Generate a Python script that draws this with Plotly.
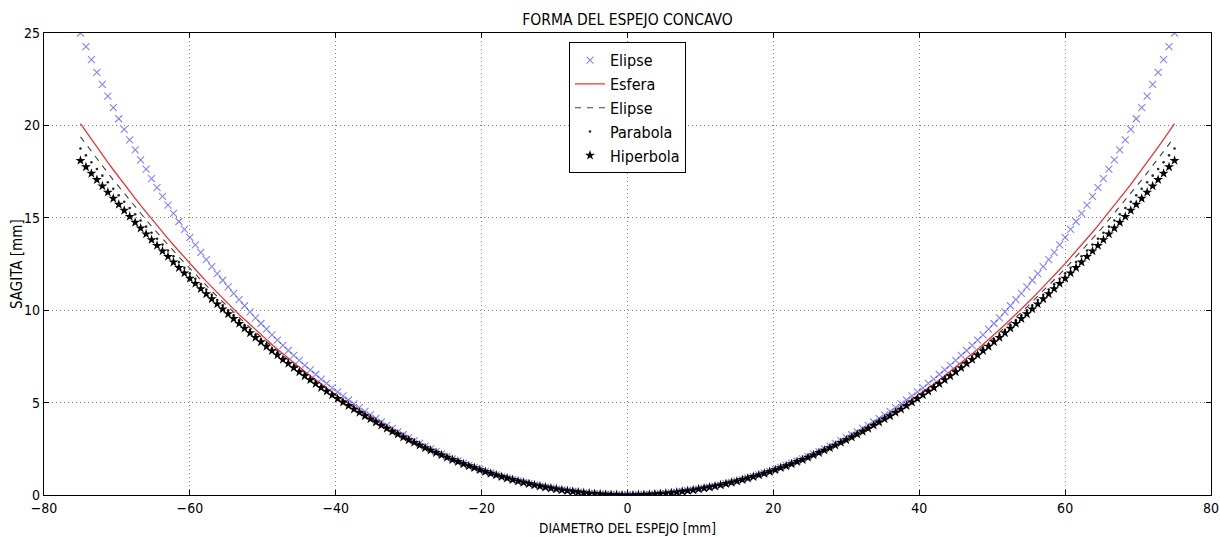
import plotly.graph_objects as go

# Right half of the mirror profile (curves are symmetric about x = 0)
x_half = [0, 0.75, 1.5, 2.25, 3, 3.75, 4.5, 5.25, 6, 6.75, 7.5, 8.25, 9, 9.75, 10.5, 11.25,
          12, 12.75, 13.5, 14.25, 15, 15.75, 16.5, 17.25, 18, 18.75, 19.5, 20.25, 21, 21.75,
          22.5, 23.25, 24, 24.75, 25.5, 26.25, 27, 27.75, 28.5, 29.25, 30, 30.75, 31.5, 32.25,
          33, 33.75, 34.5, 35.25, 36, 36.75, 37.5, 38.25, 39, 39.75, 40.5, 41.25, 42, 42.75,
          43.5, 44.25, 45, 45.75, 46.5, 47.25, 48, 48.75, 49.5, 50.25, 51, 51.75, 52.5, 53.25,
          54, 54.75, 55.5, 56.25, 57, 57.75, 58.5, 59.25, 60, 60.75, 61.5, 62.25, 63, 63.75,
          64.5, 65.25, 66, 66.75, 67.5, 68.25, 69, 69.75, 70.5, 71.25, 72, 72.75, 73.5, 74.25, 75]

elipse_x_half = [0.00, 0.00, 0.01, 0.02, 0.03, 0.05, 0.07, 0.09, 0.12, 0.15,
                 0.19, 0.23, 0.27, 0.32, 0.37, 0.42, 0.48, 0.54, 0.61, 0.68, 0.76,
                 0.83, 0.92, 1.00, 1.09, 1.19, 1.28, 1.39, 1.49, 1.60, 1.72,
                 1.84, 1.96, 2.09, 2.22, 2.35, 2.49, 2.64, 2.79, 2.94, 3.10,
                 3.26, 3.42, 3.60, 3.77, 3.95, 4.14, 4.33, 4.52, 4.73, 4.93,
                 5.14, 5.36, 5.58, 5.80, 6.04, 6.27, 6.52, 6.77, 7.02, 7.28,
                 7.55, 7.82, 8.10, 8.38, 8.67, 8.97, 9.28, 9.59, 9.91, 10.24,
                 10.57, 10.91, 11.26, 11.62, 11.98, 12.36, 12.74, 13.13, 13.53, 13.94,
                 14.37, 14.80, 15.24, 15.69, 16.16, 16.63, 17.12, 17.63, 18.14, 18.68,
                 19.22, 19.78, 20.36, 20.96, 21.58, 22.22, 22.87, 23.56, 24.26, 25.00]

esfera_half = [0.00, 0.00, 0.01, 0.02, 0.03, 0.05, 0.07, 0.09, 0.12, 0.15,
               0.19, 0.23, 0.27, 0.32, 0.37, 0.42, 0.48, 0.54, 0.61, 0.68, 0.75,
               0.83, 0.91, 1.00, 1.08, 1.18, 1.27, 1.37, 1.48, 1.59, 1.70,
               1.81, 1.93, 2.06, 2.18, 2.31, 2.45, 2.59, 2.73, 2.88, 3.03,
               3.19, 3.34, 3.51, 3.68, 3.85, 4.02, 4.20, 4.38, 4.57, 4.76,
               4.96, 5.16, 5.36, 5.57, 5.78, 6.00, 6.22, 6.45, 6.68, 6.91,
               7.15, 7.39, 7.64, 7.89, 8.14, 8.40, 8.67, 8.94, 9.21, 9.49,
               9.77, 10.06, 10.35, 10.65, 10.95, 11.25, 11.56, 11.88, 12.20, 12.52,
               12.85, 13.19, 13.53, 13.87, 14.22, 14.58, 14.94, 15.30, 15.67, 16.05,
               16.43, 16.81, 17.20, 17.60, 18.00, 18.41, 18.82, 19.24, 19.67, 20.10]

elipse_d_half = [0.00, 0.00, 0.01, 0.02, 0.03, 0.05, 0.07, 0.09, 0.12, 0.15,
                 0.19, 0.23, 0.27, 0.32, 0.37, 0.42, 0.48, 0.54, 0.61, 0.68, 0.75,
                 0.83, 0.91, 0.99, 1.08, 1.17, 1.27, 1.37, 1.47, 1.58, 1.69,
                 1.81, 1.93, 2.05, 2.18, 2.31, 2.44, 2.58, 2.72, 2.87, 3.02,
                 3.17, 3.33, 3.49, 3.65, 3.82, 3.99, 4.17, 4.35, 4.54, 4.72,
                 4.92, 5.11, 5.31, 5.52, 5.73, 5.94, 6.16, 6.38, 6.60, 6.83,
                 7.06, 7.30, 7.54, 7.78, 8.03, 8.28, 8.54, 8.80, 9.06, 9.33,
                 9.61, 9.88, 10.16, 10.45, 10.74, 11.03, 11.33, 11.63, 11.94, 12.25,
                 12.57, 12.88, 13.21, 13.54, 13.87, 14.20, 14.54, 14.89, 15.24, 15.59,
                 15.95, 16.31, 16.68, 17.05, 17.43, 17.81, 18.19, 18.58, 18.98, 19.38]

parabola_half = [0.00, 0.00, 0.01, 0.02, 0.03, 0.05, 0.07, 0.09, 0.12, 0.15,
                 0.19, 0.23, 0.27, 0.32, 0.37, 0.42, 0.48, 0.54, 0.61, 0.68,
                 0.75, 0.83, 0.91, 0.99, 1.08, 1.17, 1.27, 1.37, 1.47, 1.58,
                 1.69, 1.80, 1.92, 2.04, 2.17, 2.30, 2.43, 2.57, 2.71, 2.85,
                 3.00, 3.15, 3.31, 3.47, 3.63, 3.80, 3.97, 4.14, 4.32, 4.50,
                 4.69, 4.88, 5.07, 5.27, 5.47, 5.67, 5.88, 6.09, 6.31, 6.53,
                 6.75, 6.98, 7.21, 7.44, 7.68, 7.92, 8.17, 8.42, 8.67, 8.93,
                 9.19, 9.45, 9.72, 9.99, 10.27, 10.55, 10.83, 11.12, 11.41, 11.70,
                 12.00, 12.30, 12.61, 12.92, 13.23, 13.55, 13.87, 14.19, 14.52, 14.85,
                 15.19, 15.53, 15.87, 16.22, 16.57, 16.92, 17.28, 17.64, 18.01, 18.38,
                 18.75]

hiperbola_half = [0.00, 0.00, 0.01, 0.02, 0.03, 0.05, 0.07, 0.09, 0.12, 0.15,
                  0.19, 0.23, 0.27, 0.32, 0.37, 0.42, 0.48, 0.54, 0.61, 0.68, 0.75,
                  0.83, 0.91, 0.99, 1.08, 1.17, 1.26, 1.36, 1.47, 1.57, 1.68,
                  1.80, 1.91, 2.03, 2.16, 2.29, 2.42, 2.55, 2.69, 2.84, 2.98,
                  3.13, 3.29, 3.44, 3.60, 3.77, 3.94, 4.11, 4.28, 4.46, 4.64,
                  4.83, 5.02, 5.21, 5.41, 5.61, 5.81, 6.02, 6.23, 6.44, 6.66,
                  6.88, 7.11, 7.33, 7.57, 7.80, 8.04, 8.28, 8.52, 8.77, 9.02,
                  9.28, 9.54, 9.80, 10.06, 10.33, 10.61, 10.88, 11.16, 11.44, 11.72,
                  12.01, 12.30, 12.60, 12.90, 13.20, 13.50, 13.81, 14.12, 14.44, 14.75,
                  15.07, 15.40, 15.72, 16.05, 16.38, 16.72, 17.06, 17.40, 17.75, 18.10]

x_ticks = [-80, -60, -40, -20, 0, 20, 40, 60, 80]
y_ticks = [0, 5, 10, 15, 20, 25]


def full_x(half):
    return [-v for v in reversed(half[1:])] + list(half)


def full_y(half):
    return list(reversed(half[1:])) + list(half)


X = full_x(x_half)

fig = go.Figure()
fig.add_trace(go.Scatter(
    x=X, y=full_y(elipse_x_half), mode="markers", name="Elipse",
    marker=dict(symbol="x-thin", size=7, color="rgba(30,30,255,0.55)",
                line=dict(width=1.1, color="rgba(30,30,255,0.55)"))))
fig.add_trace(go.Scatter(
    x=X, y=full_y(esfera_half), mode="lines", name="Esfera",
    line=dict(color="rgba(235,30,30,0.9)", width=1.3)))
fig.add_trace(go.Scatter(
    x=X, y=full_y(elipse_d_half), mode="lines", name="Elipse",
    line=dict(color="rgba(0,0,0,0.75)", width=1.1, dash="6px,6px")))
fig.add_trace(go.Scatter(
    x=X, y=full_y(parabola_half), mode="markers", name="Parabola",
    marker=dict(symbol="circle", size=2.6, color="rgba(0,0,0,0.85)")))
fig.add_trace(go.Scatter(
    x=X, y=full_y(hiperbola_half), mode="markers", name="Hiperbola",
    marker=dict(symbol="star", size=7.5, color="black", line=dict(width=0))))

font_family = "DejaVu Sans Condensed, Liberation Sans Narrow, DejaVu Sans, sans-serif"

axis_common = dict(
    showline=True, linecolor="black", linewidth=1.2, mirror="ticks",
    ticks="inside", ticklen=5, tickcolor="black", tickwidth=1,
    showgrid=True, gridcolor="rgba(0,0,0,0.5)", gridwidth=0.8, griddash="1px,3px",
    zeroline=False, tickfont=dict(size=14, color="black"), automargin=False,
)

fig.update_layout(
    width=1220, height=537,
    margin=dict(l=44, r=9, t=33, b=42),
    paper_bgcolor="white", plot_bgcolor="white",
    font=dict(family=font_family, color="black", size=14),
    title=dict(text="FORMA DEL ESPEJO CONCAVO", x=0.5, xref="paper", xanchor="center",
               y=1 - 20 / 537, yanchor="middle", font=dict(size=15.5)),
    showlegend=True,
    legend=dict(x=0.5, xanchor="center", y=0.98, yanchor="top",
                bgcolor="white", bordercolor="black", borderwidth=1,
                font=dict(size=16), tracegroupgap=0, itemwidth=30),
    xaxis=dict(range=[-80, 80], tickvals=x_ticks,
               ticktext=[str(v) if v >= 0 else "\u2212" + str(-v) for v in x_ticks],
               title=dict(text="DIAMETRO DEL ESPEJO [mm]", font=dict(size=13.5), standoff=8),
               **axis_common),
    yaxis=dict(range=[0, 25], tickvals=y_ticks, **axis_common),
    annotations=[dict(text="SAGITA [mm]", xref="paper", yref="paper",
                      x=(17 - 44) / 1167, y=0.5, xanchor="center", yanchor="middle",
                      textangle=-90, showarrow=False, font=dict(size=15))],
)

fig.write_html("out.html", config={"displayModeBar": False},
               post_script="document.body.style.margin='0';document.body.style.padding='0';")
